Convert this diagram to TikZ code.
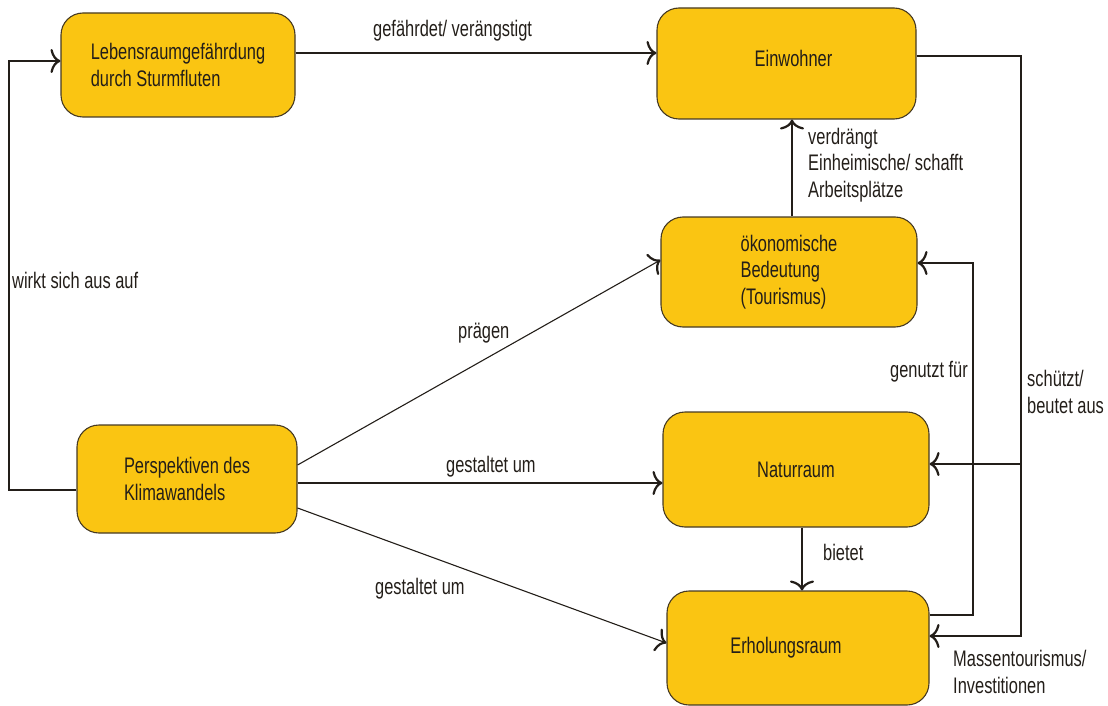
\documentclass[tikz,border=0pt]{standalone}
\usepackage{fontspec}
\setmainfont[FakeStretch=0.73]{Liberation Sans}
\usetikzlibrary{arrows.meta}
\definecolor{boxfill}{RGB}{250,197,18}
\definecolor{boxline}{RGB}{70,58,35}
\definecolor{ink}{RGB}{35,30,25}
\begin{document}
\begin{tikzpicture}[x=1pt,y=-1pt,
  font=\fontsize{22.5}{26.5}\selectfont,
  every node/.style={text=ink},
  box/.style={draw=boxline, fill=boxfill, line width=1.1pt, rounded corners=22pt,
    inner sep=0pt, align=left},
  lbl/.style={anchor=base west, inner sep=0pt, align=left},
  arr/.style={line width=1.1pt, draw=ink,
    -{Computer Modern Rightarrow[length=10pt,width=24pt,line width=2.2pt]}}]
\useasboundingbox (0,0) rectangle (1108,706);

% boxes
\node[box, minimum width=234pt, minimum height=104pt] (leb) at (178,65)
  {Lebensraumgefährdung\\durch Sturmfluten};
\node[box, minimum width=259pt, minimum height=111pt] (ein) at (786.5,63.5)
  {\hspace*{14pt}\raisebox{10pt}{Einwohner}};
\node[box, minimum width=256pt, minimum height=110pt] (oek) at (789,272)
  {ökonomische\\Bedeutung\\(Tourismus)};
\node[box, minimum width=266pt, minimum height=115pt] (nat) at (796,469.5)
  {Naturraum};
\node[box, minimum width=262pt, minimum height=114pt] (erh) at (798,648)
  {Erholungsraum\hspace*{24pt}};
\node[box, minimum width=220pt, minimum height=108pt] (per) at (187,479)
  {Perspektiven des\\Klimawandels};

% connectors
\draw[arr] (leb.east |- 0,53) -- (ein.west |- 0,53);
\draw[arr] (per.west |- 0,490) -- (9,490) -- (9,61) -- (leb.west |- 0,61);
\draw[arr] (per.east |- 0,465) -- (oek.west |- 0,260);
\draw[arr] (per.east |- 0,483) -- (nat.west |- 0,483);
\draw[arr] (per.east |- 0,508) -- (erh.west |- 0,643);
\draw[arr] (oek.north -| 792,0) -- (ein.south -| 792,0);
\draw[arr] (nat.south -| 802,0) -- (erh.north -| 802,0);
\draw[arr] (erh.east |- 0,615) -- (973,615) -- (973,263) -- (oek.east |- 0,263);
\coordinate (sj) at (1021,464);
\draw[arr] (ein.east |- 0,56) -- (1021,56) -- (1021,636) -- (erh.east |- 0,636);
\draw[arr] (sj) -- (nat.east |- sj);

% labels (multi-line: base = last line)
\node[lbl] (l1) at (373,37) {gefährdet/ verängstigt};
\node[lbl] (l2) at (12,288) {wirkt sich aus auf};
\node[lbl] (l3) at (458,338) {prägen};
\node[lbl] (l4) at (446,472) {gestaltet um};
\node[lbl] (l5) at (375,594) {gestaltet um};
\node[lbl] (l6) at (808,197) {verdrängt\\Einheimische/ schafft\\Arbeitsplätze};
\node[lbl] (l7) at (823,560) {bietet};
\node[lbl] (l8) at (890,377) {genutzt für};
\node[lbl] (l9) at (1027,413) {schützt/\\beutet aus};
\node[lbl] (l10) at (953,693) {Massentourismus/\\Investitionen};
\end{tikzpicture}
\end{document}
